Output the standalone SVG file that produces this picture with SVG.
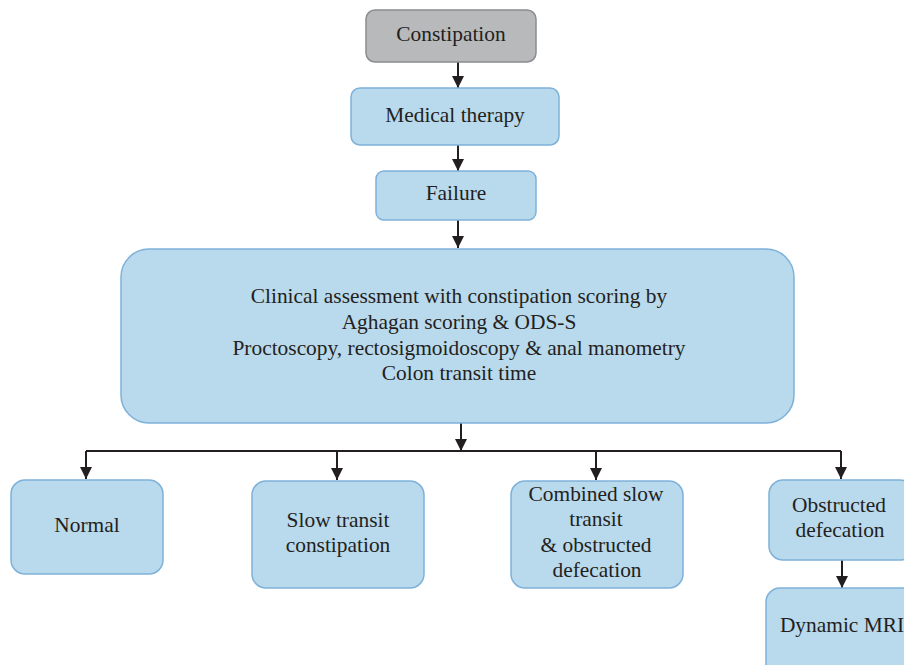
<svg xmlns="http://www.w3.org/2000/svg" width="904" height="665" viewBox="0 0 904 665">
<style>
.box{fill:#b9d9ec;stroke:#7eb1d9;stroke-width:1.5}
.gray{fill:#b7b9bb;stroke:#8a8c8f;stroke-width:1.5}
.t{font-family:"Liberation Serif","Times New Roman",serif;font-size:21.4px;fill:#231f20;text-anchor:middle}
.c{fill:none;stroke:#231f20;stroke-width:2}
</style>
<defs>
<marker id="ah" markerUnits="userSpaceOnUse" markerWidth="13" markerHeight="13" viewBox="0 0 13 13" refX="12" refY="6.5" orient="auto">
<path d="M0,0.5 L12,6.5 L0,12.5 Z" fill="#231f20"/>
</marker>
</defs>
<rect width="904" height="665" fill="#ffffff"/>
<g id="connectors">
<path class="c" d="M458,62 V88" marker-end="url(#ah)"/>
<path class="c" d="M458,145 V171" marker-end="url(#ah)"/>
<path class="c" d="M458,220 V248" marker-end="url(#ah)"/>
<path class="c" d="M461,423 V451" marker-end="url(#ah)"/>
<path class="c" d="M86,451 H841" stroke-width="1.6"/>
<path class="c" d="M86,451 V479" marker-end="url(#ah)"/>
<path class="c" d="M337,451 V480" marker-end="url(#ah)"/>
<path class="c" d="M596,451 V480" marker-end="url(#ah)"/>
<path class="c" d="M841,451 V479" marker-end="url(#ah)"/>
<path class="c" d="M842,560 V588" marker-end="url(#ah)"/>
</g>
<g id="constipation">
<rect class="gray" x="366" y="10" width="170" height="52" rx="9"/>
<text class="t" x="451" y="41">Constipation</text>
</g>
<g id="medical-therapy">
<rect class="box" x="351" y="88" width="208" height="57" rx="9"/>
<text class="t" x="455" y="122">Medical therapy</text>
</g>
<g id="failure">
<rect class="box" x="376" y="171" width="160" height="49" rx="8"/>
<text class="t" x="456" y="200">Failure</text>
</g>
<g id="clinical-assessment">
<rect class="box" x="121" y="249" width="673" height="174" rx="28"/>
<text class="t" x="459" y="303">Clinical assessment with constipation scoring by</text>
<text class="t" x="459" y="329">Aghagan scoring &amp; ODS-S</text>
<text class="t" x="459" y="355">Proctoscopy, rectosigmoidoscopy &amp; anal manometry</text>
<text class="t" x="459" y="380">Colon transit time</text>
</g>
<g id="normal">
<rect class="box" x="11" y="480" width="152" height="94" rx="14"/>
<text class="t" x="87" y="532">Normal</text>
</g>
<g id="slow-transit">
<rect class="box" x="252" y="481" width="172" height="107" rx="14"/>
<text class="t" x="338" y="527">Slow transit</text>
<text class="t" x="338" y="552">constipation</text>
</g>
<g id="combined">
<rect class="box" x="511" y="481" width="172" height="107" rx="14"/>
<text class="t" x="596" y="501">Combined slow</text>
<text class="t" x="596" y="526">transit</text>
<text class="t" x="596" y="552">&amp; obstructed</text>
<text class="t" x="597" y="577">defecation</text>
</g>
<g id="obstructed">
<rect class="box" x="769" y="480" width="145" height="80" rx="14"/>
<text class="t" x="839" y="512">Obstructed</text>
<text class="t" x="840" y="537">defecation</text>
</g>
<g id="dynamic-mri">
<rect class="box" x="766" y="588" width="150" height="90" rx="14"/>
<text class="t" x="842" y="632">Dynamic MRI</text>
</g>
</svg>
